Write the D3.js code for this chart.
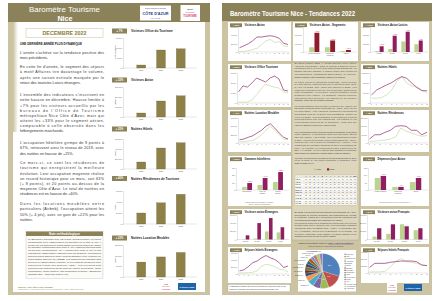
<!DOCTYPE html>
<html>
<head>
<meta charset="utf-8">
<script src="https://cdn.jsdelivr.net/npm/d3@7"></script>
<style>
body { margin: 0; background: #fff; }
svg { display: block; font-family: "Liberation Sans", Arial, sans-serif; }
</style>
</head>
<body>
<svg id="c" width="440" height="301"></svg>
<script>
// ---- page 1 : décembre 2022 ----
var years = ["2020", "2021", "2022"];
var decOffice = [1500, 9000, 9600];
var decAvion = [40000, 160000, 212000];
var decHotels = [140000, 420000, 525000];
var decResid = [20000, 38500, 54000];
var decMeuble = [70000, 94000, 115000];

// ---- page 2 : tendances 2022 ----
var months = ["J", "F", "M", "A", "M", "J", "J", "A", "S", "O", "N", "D"];
var avion21 = [12000, 12000, 30000, 60000, 90000, 180000, 270000, 300000, 228000, 252000, 150000, 132000];
var avion22 = [102000, 150000, 198000, 270000, 360000, 360000, 378000, 390000, 372000, 330000, 210000, 180000];
var office21 = [900, 900, 900, 3000, 8100, 14100, 18900, 17100, 15900, 15000, 11100, 9900];
var office22 = [11100, 17100, 15900, 20100, 24900, 23100, 21000, 24900, 27000, 24000, 12900, 12000];
var hotels21 = [192000, 192000, 216000, 324000, 516000, 852000, 1056000, 792000, 684000, 624000, 516000, 396000];
var hotels22 = [324000, 516000, 624000, 720000, 816000, 948000, 1056000, 984000, 792000, 624000, 492000, 492000];
var meuble21 = [37500, 37500, 60000, 75000, 150000, 247500, 382500, 502500, 382500, 247500, 120000, 97500];
var meuble22 = [97500, 120000, 172500, 217500, 300000, 382500, 502500, 577500, 450000, 300000, 172500, 120000];
var resid21 = [10500, 10500, 15000, 18000, 24000, 36000, 90000, 70500, 60000, 49500, 40500, 45000];
var resid22 = [24000, 49500, 49500, 64500, 76500, 100500, 103500, 100500, 76500, 76500, 49500, 64500];
var hotEtr21 = [30000, 30000, 36000, 48000, 90000, 228000, 276000, 252000, 210000, 138000, 120000, 60000];
var hotEtr22 = [90000, 120000, 210000, 324000, 372000, 462000, 528000, 462000, 414000, 324000, 186000, 228000];
var hotFra21 = [20000, 20000, 20000, 32000, 124000, 216000, 276000, 216000, 204000, 184000, 152000, 140000];
var hotFra22 = [104000, 184000, 184000, 184000, 204000, 216000, 228000, 228000, 228000, 216000, 152000, 140000];

var segments = ["Loisirs étrangers", "Loisirs non|étrangers", "Affaires"];
var seg21 = [570000, 570000, 120000];
var seg22 = [2310000, 1380000, 240000];
var trimestres = ["1er trim.", "2e trim.", "3e trim.", "4e trim."];
var loisirs21 = [40000, 120000, 420000, 310000];
var loisirs22 = [230000, 650000, 810000, 460000];
var gammes = ["Economique", "Milieu de|gamme", "Haut de|gamme"];
var gamme21 = [42, 68, 109];
var gamme22 = [95, 164, 245];
var depense21 = [82, 21, 54];
var depense22 = [96, 21, 82];
var etr21 = [6000, 24000, 198000, 174000];
var etr22 = [102000, 402000, 525000, 300000];
var fra21 = [48000, 92000, 248000, 152000];
var fra22 = [184000, 248000, 216000, 184000];

var tabRows = ["Hôt. 21", "Hôt. 22", "Rés. 21", "Rés. 22", "Meub. 21", "Meub. 22", "CA h. 21", "CA h. 22", "CA r. 21", "CA r. 22"];
var tabValues = [
  [31, 35, 38, 40, 45, 55, 72, 80, 66, 57, 45, 58],
  [44, 55, 60, 66, 72, 80, 86, 88, 82, 72, 60, 67],
  [30, 34, 36, 40, 45, 56, 72, 82, 68, 58, 45, 55],
  [45, 55, 58, 62, 70, 78, 85, 90, 82, 74, 62, 63],
  [25, 28, 30, 35, 40, 52, 70, 78, 60, 48, 38, 46],
  [35, 40, 45, 50, 58, 65, 78, 84, 70, 58, 45, 50],
  [28, 32, 35, 40, 46, 58, 75, 84, 65, 52, 38, 40],
  [38, 45, 52, 58, 66, 76, 85, 89, 78, 64, 48, 47],
  [26, 30, 33, 38, 44, 55, 74, 83, 62, 50, 36, 38],
  [34, 40, 46, 52, 60, 70, 82, 88, 72, 58, 42, 43]
];

var pays = ["Etats-Unis", "Italie", "Royaume-Uni", "Allemagne", "Belgique", "Suisse", "Espagne", "Pays-Bas",
  "Scandinavie", "Israël", "Moyen-Orient", "Russie", "Asie", "Amérique latine", "Autres Europe", "Autres pays"];
var paysPart = [30, 14, 8, 7, 6, 5, 3, 3, 3, 3, 3, 3, 3, 3, 3, 3];
var pieColors = ["#4f81bd", "#c0504d", "#9bbb59", "#8064a2", "#4bacc6", "#f79646", "#2c4d75", "#772c2a",
  "#5f7530", "#4d3b62", "#276a7c", "#b65708", "#729aca", "#cd7371", "#afc97a", "#9983b5"];

// ---- textes ----
var txtTitre = "UNE DERNIÈRE ANNÉE PLUS DYNAMIQUE";
var txtGauche = [
  ["L'année s'achève sur la tendance positive des", "mois précédents."],
  ["En cette fin d'année, le segment des séjours", "à motif Affaires tire davantage le volume,",
   "après une saison estivale marquée par le", "retour des touristes Loisirs étrangers."],
  ["L'ensemble des indicateurs s'inscrivent en", "nette hausse en décembre. Hausse limitée à",
   "+7% pour les visiteurs accueillis par les", "bureaux de l'Office de Tourisme",
   "métropolitain Nice Côte d'Azur, mais qui", "atteint les +33% pour le segment aérien,",
   "comparable à celle observée dans les", "hébergements marchands."],
  ["L'occupation hôtelière grimpe de 9 points à", "67%, retrouvant ainsi le niveau de 2019, avec",
   "des nuitées en hausse de +25%."],
  ["Ce mois-ci, ce sont les résidences de", "tourisme qui enregistrent la meilleure",
   "évolution. Leur occupation moyenne réalise", "un record historique pour ce mois, soit 63%",
   "(+ 8 points), et 20 points au-dessus de la", "moyenne Côte d'Azur. Le total de nuitées en",
   "résidences est en hausse de +40%."],
  ["Dans les locations meublées entre", "particuliers (Airbnb), l'occupation atteint les",
   "50% (+ 4 pts), avec un gain de +22% pour les", "nuitées."]
];
var txtNote = [
  "Le Baromètre Tourisme Nice est réalisé mensuellement, en étroite",
  "collaboration avec l'Observatoire du Tourisme de la Côte d'Azur. Il",
  "repose sur les données de fréquentation recueillies auprès de l'Office",
  "de Tourisme Métropolitain Nice Côte d'Azur (visiteurs accueillis dans",
  "les bureaux d'information), de l'Aéroport Nice Côte d'Azur et des",
  "enquêtes de l'Observatoire (visiteurs avion par segment). Les données",
  "hôtelières sont issues du panel MKG Destination et de l'enquête de",
  "fréquentation hôtelière de l'INSEE. Les résidences de tourisme sont",
  "suivies via l'Observatoire régional, et les locations meublées entre",
  "particuliers à partir des données AirDNA. Les évolutions sont",
  "calculées par rapport au même mois de l'année précédente. Toute",
  "reproduction, même partielle, doit mentionner la source : Baromètre",
  "Tourisme Nice – OTM Nice Côte d'Azur."
];
var txtMilieu = [
  ["En début d'année 2022, le variant Omicron freine encore", "l'activité touristique, mais la reprise s'amorce dès le",
   "printemps avec la levée des restrictions sanitaires. La", "saison estivale marque le grand retour des clientèles",
   "internationales, notamment américaines, et l'arrière-", "saison confirme cette dynamique jusqu'en fin d'année."],
  ["Le trafic aérien a fortement progressé, avec près de", "3,9 millions de visiteurs arrivés à l'aéroport Nice Côte",
   "d'Azur en 2022, soit +81% par rapport à 2021. Les", "visiteurs étrangers ont été les principaux moteurs de",
   "cette croissance, la clientèle Loisirs étrangère ayant", "quadruplé sur l'année. Le segment Affaires retrouve",
   "également des couleurs, en particulier au dernier", "trimestre, porté par les congrès et salons."],
  ["La fréquentation des bureaux d'accueil de l'Office de", "Tourisme Métropolitain progresse de +58%, avec un pic",
   "en septembre. Les visiteurs étrangers représentent", "désormais plus de la moitié des demandes, contre un",
   "tiers en 2021. Les demandes d'information portent", "principalement sur les transports, les visites et les",
   "événements culturels de la Métropole, ainsi que sur", "l'offre de loisirs de plein air de l'arrière-pays."],
  ["Les performances des hébergements marchands confirment", "cette embellie. L'occupation hôtelière moyenne atteint",
   "68% sur l'année (+19 points), avec un mois d'août record", "à 88%. Les nuitées hôtelières progressent de +57%,",
   "portées par les clientèles étrangères (+119%). Les", "résidences de tourisme affichent un taux d'occupation de",
   "66% (+14 points) et les meublés entre particuliers de", "55% (+9 points). Le prix moyen des chambres progresse",
   "dans toutes les catégories, surtout dans le haut de gamme."],
  ["Les taux d'occupation mensuels des hébergements de Nice", "et de la Côte d'Azur sont présentés ci-dessous, pour",
   "2021 et 2022 (en %)."]
];
var txtMilieuBas = [
  ["En 2022, les séjours aériens français ont progressé de +37%,", "bénéficiant en premier semestre des restrictions de voyage",
   "à l'étranger, tandis que les séjours aériens étrangers ont", "été multipliés par quatre sur l'ensemble de l'année."],
  ["Les nuitées hôtelières étrangères retrouvent leur niveau", "d'avant-crise dès le mois de juin. Les principaux marchés",
   "émetteurs sont les États-Unis, l'Italie, le Royaume-Uni", "et l'Allemagne, suivis par la Belgique et la Suisse. La",
   "clientèle française reste stable en haute saison et se", "maintient à un bon niveau en arrière-saison."]
];

var olive = "#8b8259", oliveBar = "#8d8148", tan = "#cbc3a1", boxTan = "#ddd6bd";
var purple = "#8f2a6b", greenLine = "#c6d9a0", greenBar = "#bad38d", segRed = "#8e1c2a", mag = "#8f1f5f";

var svg = d3.select("#c");
var fr = d3.formatLocale({ decimal: ",", thousands: "\u00a0", grouping: [3], currency: ["", "€"] });
var fmt = fr.format(",d");
function pct(a, b) {
  var v = Math.round((a / b - 1) * 100);
  return (v >= 0 ? "+ " : "- ") + Math.abs(v) + "%";
}

// justified lines of text
function lines(g, arr, x, y, lh, w, fs, color, weight) {
  arr.forEach(function (t, i) {
    var el = g.append("text").attr("x", x).attr("y", y + i * lh)
      .attr("font-size", fs).attr("fill", color || "#333").text(t);
    if (weight) el.attr("font-weight", weight);
    var len = el.node().getComputedTextLength();
    if (len > w) el.attr("textLength", w).attr("lengthAdjust", "spacingAndGlyphs");
    else if (i < arr.length - 1) el.attr("textLength", w).attr("lengthAdjust", "spacing");
  });
}

function styleAxis(g, fs) {
  g.attr("font-size", fs).attr("font-family", null);
  g.select(".domain").attr("stroke", "#999").attr("stroke-width", 0.25);
  g.selectAll(".tick line").attr("stroke", "#999").attr("stroke-width", 0.2);
  g.selectAll(".tick text").attr("fill", "#555");
}

/* ================= PAGE 1 ================= */
svg.append("rect").attr("x", 8).attr("y", 3).attr("width", 202).attr("height", 292).attr("fill", tan);
svg.append("rect").attr("x", 13).attr("y", 22).attr("width", 192).attr("height", 270).attr("fill", "#fff");
var grad = svg.append("defs").append("linearGradient").attr("id", "lg");
grad.append("stop").attr("offset", 0).attr("stop-color", tan);
grad.append("stop").attr("offset", 1).attr("stop-color", "#fff");
svg.append("rect").attr("x", 13).attr("y", 22).attr("width", 5).attr("height", 110).attr("fill", "url(#lg)");
svg.append("rect").attr("x", 8).attr("y", 3).attr("width", 202).attr("height", 19).attr("fill", olive);

svg.append("text").attr("x", 29).attr("y", 11.8).attr("font-size", 8).attr("fill", "#fff")
  .attr("textLength", 71).attr("lengthAdjust", "spacingAndGlyphs").text("Baromètre Tourisme");
svg.append("text").attr("x", 65).attr("y", 20.5).attr("text-anchor", "middle").attr("font-size", 7.2)
  .attr("font-weight", "bold").attr("fill", "#fff").text("Nice");

// logos en-tête
svg.append("rect").attr("x", 140).attr("y", 5.5).attr("width", 31).attr("height", 15).attr("fill", "#fff");
svg.append("text").attr("x", 155.5).attr("y", 9).attr("text-anchor", "middle").attr("font-size", 1.6)
  .attr("fill", "#1c3f8a").text("Comité Régional du Tourisme");
svg.append("text").attr("x", 142.5).attr("y", 15).attr("font-size", 4.3).attr("font-weight", "bold")
  .attr("fill", "#1c3f8a").attr("textLength", 26).attr("lengthAdjust", "spacingAndGlyphs").text("CÔTE D'AZUR");
svg.append("text").attr("x", 155.5).attr("y", 18.6).attr("text-anchor", "middle").attr("font-size", 1.6)
  .attr("fill", "#1c3f8a").attr("letter-spacing", 0.6).text("FRANCE");
svg.append("rect").attr("x", 180.5).attr("y", 5).attr("width", 19.5).attr("height", 16).attr("fill", "#fff");
svg.append("text").attr("x", 190).attr("y", 9.5).attr("text-anchor", "middle").attr("font-size", 2.4)
  .attr("font-weight", "bold").attr("fill", "#444").text("NICE");
svg.append("text").attr("x", 190).attr("y", 13).attr("text-anchor", "middle").attr("font-size", 1.9)
  .attr("fill", "#d33").text("côte d'azur");
svg.append("text").attr("x", 190).attr("y", 16.5).attr("text-anchor", "middle").attr("font-size", 2.6)
  .attr("font-weight", "bold").attr("fill", "#e0457b").text("TOURISME");

// cartouche mois
svg.append("rect").attr("x", 26).attr("y", 28.5).attr("width", 77).attr("height", 9).attr("fill", "#fff")
  .attr("stroke", "#cfc8ab").attr("stroke-width", 0.6);
svg.append("text").attr("x", 42.5).attr("y", 35.3).attr("font-size", 5.6).attr("font-weight", "bold")
  .attr("fill", "#8a7d3c").attr("textLength", 44).attr("lengthAdjust", "spacingAndGlyphs").text("DECEMBRE 2022");

svg.append("text").attr("x", 20).attr("y", 44.5).attr("font-size", 3).attr("font-weight", "bold")
  .attr("fill", "#222").text(txtTitre);
var gStart = [54.3, 68.3, 96.3, 144.3, 164.3, 205.3];
var gLeft = svg.append("g");
txtGauche.forEach(function (p, i) { lines(gLeft, p, 20, gStart[i], 5.15, 84, 3.7, "#333"); });

// note méthodologique
svg.append("rect").attr("x", 26).attr("y", 231.5).attr("width", 77).attr("height", 47).attr("fill", "#fbfaf6")
  .attr("stroke", "#aaa").attr("stroke-width", 0.3);
svg.append("rect").attr("x", 26).attr("y", 231.5).attr("width", 77).attr("height", 4.5).attr("fill", olive);
svg.append("text").attr("x", 64.5).attr("y", 234.9).attr("text-anchor", "middle").attr("font-size", 3)
  .attr("font-weight", "bold").attr("fill", "#fff").text("Note méthodologique");
lines(svg.append("g"), txtNote, 28, 239.6, 2.95, 73, 2.3, "#333");

svg.append("text").attr("x", 18).attr("y", 287.5).attr("font-size", 2).attr("fill", "#8a7d3c")
  .attr("font-weight", "bold").text("Sources : Nice Côte d'Azur Tourisme");
svg.append("text").attr("x", 18).attr("y", 290.4).attr("font-size", 1.7).attr("fill", "#9c9262")
  .text("Contributeurs : Aéroport Nice Côte d'Azur, MKG Destination, AirDNA, Observatoire CRT");
// logos bas
function logoBas(x, y, bx, by) {
  svg.append("rect").attr("x", x).attr("y", y).attr("width", 10).attr("height", 10).attr("fill", "#fff");
  svg.append("text").attr("x", x + 5).attr("y", y + 3).attr("text-anchor", "middle").attr("font-size", 1.6)
    .attr("fill", "#444").text("NICE");
  svg.append("text").attr("x", x + 5).attr("y", y + 5.6).attr("text-anchor", "middle").attr("font-size", 1.5)
    .attr("fill", "#d33").text("côte d'azur");
  svg.append("text").attr("x", x + 5).attr("y", y + 8.2).attr("text-anchor", "middle").attr("font-size", 1.6)
    .attr("font-weight", "bold").attr("fill", "#e0457b").text("TOURISME");
  svg.append("rect").attr("x", bx).attr("y", by).attr("width", 18).attr("height", 7).attr("fill", "#1f63a8");
  svg.append("text").attr("x", bx + 9).attr("y", by + 4.5).attr("text-anchor", "middle").attr("font-size", 2.2)
    .attr("font-weight", "bold").attr("fill", "#fff").text("CÔTE D'AZUR");
}
logoBas(161, 281.5, 178, 283);

// graphiques de décembre
var decCharts = [
  { title: "Visiteurs Office du Tourisme", data: decOffice, max: 15000, ty: 31, top: 38, base: 68, yt: "Nombre de visiteurs" },
  { title: "Visiteurs Avion", data: decAvion, max: 300000, ty: 80, top: 87, base: 117, yt: "Visiteurs" },
  { title: "Nuitées Hôtels", data: decHotels, max: 600000, ty: 129, top: 139, base: 169, yt: "Nuitées" },
  { title: "Nuitées Résidences de Tourisme", data: decResid, max: 60000, ty: 178.5, top: 191, base: 224, yt: "Nuitées" },
  { title: "Nuitées Location Meublée", data: decMeuble, max: 150000, ty: 238, top: 245, base: 277, yt: "Nuitées" }
];
decCharts.forEach(function (c) {
  var g = svg.append("g");
  g.append("rect").attr("x", 112).attr("y", c.ty - 2.5).attr("width", 15).attr("height", 5).attr("fill", olive);
  g.append("text").attr("x", 119.5).attr("y", c.ty + 0.9).attr("text-anchor", "middle").attr("font-size", 2.6)
    .attr("font-weight", "bold").attr("fill", "#fff").text(pct(c.data[2], c.data[1]));
  g.append("text").attr("x", 131).attr("y", c.ty + 1.1).attr("font-size", 3.1).attr("font-weight", "bold")
    .attr("fill", "#222").text(c.title);
  var x = d3.scaleBand().domain(years).range([126, 196]).padding(0.55);
  var y = d3.scaleLinear().domain([0, c.max]).range([c.base, c.top]);
  var ax = g.append("g").attr("transform", "translate(123,0)")
    .call(d3.axisLeft(y).tickValues(d3.range(0, c.max + 1, c.max / 3)).tickSize(1).tickPadding(0.6).tickFormat(fmt));
  styleAxis(ax, 1.8);
  g.append("line").attr("x1", 123).attr("x2", 197).attr("y1", c.base).attr("y2", c.base)
    .attr("stroke", "#999").attr("stroke-width", 0.25);
  g.selectAll(".bar").data(c.data).enter().append("rect")
    .attr("x", function (d, i) { return x(years[i]); })
    .attr("y", function (d) { return y(d); })
    .attr("width", x.bandwidth())
    .attr("height", function (d) { return c.base - y(d); })
    .attr("fill", oliveBar).attr("stroke", "#5f5632").attr("stroke-width", 0.25);
  g.selectAll(".xl").data(years).enter().append("text")
    .attr("x", function (d) { return x(d) + x.bandwidth() / 2; }).attr("y", c.base + 3)
    .attr("text-anchor", "middle").attr("font-size", 1.9).attr("fill", "#555").text(function (d) { return d; });
  g.append("text").attr("transform", "translate(115.5," + ((c.top + c.base) / 2) + ") rotate(-90)")
    .attr("text-anchor", "middle").attr("font-size", 1.7).attr("fill", "#555").text(c.yt);
});

/* ================= PAGE 2 ================= */
svg.append("rect").attr("x", 222).attr("y", 3).attr("width", 210).attr("height", 292).attr("fill", tan);
svg.append("rect").attr("x", 222).attr("y", 3).attr("width", 210).attr("height", 18).attr("fill", olive);
svg.append("text").attr("x", 230).attr("y", 16.3).attr("font-size", 7).attr("font-weight", "bold").attr("fill", "#fff")
  .attr("textLength", 125).attr("lengthAdjust", "spacingAndGlyphs").text("Baromètre Tourisme Nice - Tendances 2022");

function panel(p, badge) {
  var g = svg.append("g");
  g.append("rect").attr("x", p.x).attr("y", p.y).attr("width", p.w).attr("height", p.h).attr("fill", "#fff");
  g.append("rect").attr("x", p.x + 2).attr("y", p.y + 1.3).attr("width", 12).attr("height", 3.8).attr("fill", olive);
  g.append("text").attr("x", p.x + 8).attr("y", p.y + 3.9).attr("text-anchor", "middle").attr("font-size", 2.2)
    .attr("font-weight", "bold").attr("fill", "#fff").text(badge);
  g.append("text").attr("x", p.x + 16.5).attr("y", p.y + 4.1).attr("font-size", 2.8).attr("font-weight", "bold")
    .attr("fill", "#222").text(p.title);
  return g;
}

function yAxis(g, p, y) {
  var ax = g.append("g").attr("transform", "translate(" + p.px0 + ",0)")
    .call(d3.axisLeft(y).tickValues(d3.range(0, p.max + 1, p.max / 3)).tickSize(0.8).tickPadding(0.5).tickFormat(fmt));
  styleAxis(ax, 1.6);
  g.append("line").attr("x1", p.px0).attr("x2", p.px1).attr("y1", p.py1).attr("y2", p.py1)
    .attr("stroke", "#999").attr("stroke-width", 0.25);
}

function lineChart(p) {
  var g = panel(p, pct(d3.sum(p.d22), d3.sum(p.d21)));
  var x = d3.scalePoint().domain(d3.range(12)).range([p.px0 + 1.5, p.px1 - 1]);
  var y = d3.scaleLinear().domain([0, p.max]).range([p.py1, p.py0]);
  yAxis(g, p, y);
  g.selectAll(".xl").data(months).enter().append("text")
    .attr("x", function (d, i) { return x(i); }).attr("y", p.py1 + 2.2).attr("text-anchor", "middle")
    .attr("font-size", 1.6).attr("fill", "#555").text(function (d) { return d; });
  var line = d3.line().x(function (d, i) { return x(i); }).y(function (d) { return y(d); });
  g.append("path").datum(p.d21).attr("d", line).attr("fill", "none").attr("stroke", greenLine).attr("stroke-width", 0.7);
  g.append("path").datum(p.d22).attr("d", line).attr("fill", "none").attr("stroke", purple).attr("stroke-width", 0.7);
}

function barChart(p) {
  var g = panel(p, pct(d3.sum(p.d22), d3.sum(p.d21)));
  var x = d3.scaleBand().domain(p.groups).range([p.px0 + 1, p.px1 - 1]).padding(0.3);
  var xi = d3.scaleBand().domain([0, 1]).range([0, x.bandwidth()]).padding(0.08);
  var y = d3.scaleLinear().domain([0, p.max]).range([p.py1, p.py0]);
  yAxis(g, p, y);
  p.groups.forEach(function (grp, i) {
    [p.d21[i], p.d22[i]].forEach(function (v, k) {
      g.append("rect").attr("x", x(grp) + xi(k)).attr("y", y(v)).attr("width", xi.bandwidth())
        .attr("height", p.py1 - y(v)).attr("fill", k ? p.col : greenBar);
    });
    if (p.labels) {
      g.append("text").attr("x", x(grp) + xi(1) + xi.bandwidth() / 2).attr("y", y(p.d22[i]) - 1)
        .attr("text-anchor", "middle").attr("font-size", 1.6).attr("fill", "#c0392b")
        .text(pct(p.d22[i], p.d21[i]));
    }
    grp.split("|").forEach(function (t, j) {
      g.append("text").attr("x", x(grp) + x.bandwidth() / 2).attr("y", p.py1 + 2.2 + j * 2)
        .attr("text-anchor", "middle").attr("font-size", 1.6).attr("fill", "#555").text(t);
    });
  });
  if (p.caption) {
    p.caption.forEach(function (t, j) {
      g.append("text").attr("x", p.x + p.w / 2).attr("y", p.y + p.h - 3.5 + j * 2)
        .attr("text-anchor", "middle").attr("font-size", 1.5).attr("fill", "#666").text(t);
    });
  }
}

var L = 228, LW = 63, M = 293, MW = 65, R = 361, RW = 68;
var panels = [
  { kind: "line", x: L, y: 22, w: LW, h: 39, title: "Visiteurs Avion", d21: avion21, d22: avion22, max: 600000, px0: 238, px1: 289, py0: 27, py1: 52 },
  { kind: "bar", x: M, y: 22, w: MW, h: 39, title: "Visiteurs Avion - Segments", groups: segments, d21: seg21, d22: seg22, max: 3000000, col: segRed, labels: true, px0: 303, px1: 357, py0: 27, py1: 52 },
  { kind: "bar", x: R, y: 22, w: RW, h: 39, title: "Visiteurs Avion Loisirs", groups: trimestres, d21: loisirs21, d22: loisirs22, max: 1000000, col: mag, labels: true, px0: 370, px1: 428, py0: 27, py1: 52 },
  { kind: "line", x: L, y: 64, w: LW, h: 43, title: "Visiteurs Office Tourisme", d21: office21, d22: office22, max: 30000, px0: 237, px1: 289, py0: 73, py1: 103 },
  { kind: "line", x: R, y: 64, w: RW, h: 43, title: "Nuitées Hôtels", d21: hotels21, d22: hotels22, max: 1200000, px0: 370, px1: 428, py0: 73, py1: 103 },
  { kind: "line", x: L, y: 110, w: LW, h: 42, title: "Nuitées Location Meublée", d21: meuble21, d22: meuble22, max: 750000, px0: 238, px1: 289, py0: 118, py1: 143 },
  { kind: "line", x: R, y: 110, w: RW, h: 42, title: "Nuitées Résidences", d21: resid21, d22: resid22, max: 150000, px0: 368, px1: 428, py0: 118, py1: 143 },
  { kind: "bar", x: L, y: 156, w: LW, h: 50, title: "Gammes hôtelières", groups: gammes, d21: gamme21, d22: gamme22, max: 300, col: mag, labels: true, px0: 236, px1: 289, py0: 168, py1: 190, caption: ["Nuitées hôtelières par gamme (en milliers)", "Source : panel MKG Destination"] },
  { kind: "bar", x: R, y: 156, w: RW, h: 50, title: "Dépenses/jour Avion", groups: segments, d21: depense21, d22: depense22, max: 150, col: mag, labels: true, px0: 368, px1: 428, py0: 168, py1: 190, caption: ["Dépense moyenne par jour et par personne (€)"] },
  { kind: "bar", x: L, y: 209, w: LW, h: 35, title: "Visiteurs avion Étrangers", groups: trimestres, d21: etr21, d22: etr22, max: 600000, col: mag, px0: 237, px1: 289, py0: 215, py1: 239.5 },
  { kind: "bar", x: R, y: 209, w: RW, h: 35, title: "Visiteurs avion Français", groups: trimestres, d21: fra21, d22: fra22, max: 400000, col: mag, px0: 367, px1: 428, py0: 215, py1: 239.5 },
  { kind: "line", x: L, y: 247, w: LW, h: 36, title: "Séjours hôtels Étrangers", d21: hotEtr21, d22: hotEtr22, max: 600000, px0: 238, px1: 289, py0: 253, py1: 274 },
  { kind: "line", x: R, y: 247, w: RW, h: 36, title: "Séjours hôtels Français", d21: hotFra21, d22: hotFra22, max: 400000, px0: 368, px1: 428, py0: 252, py1: 273 }
];
panels.forEach(function (p) { if (p.kind === "line") lineChart(p); else barChart(p); });

// colonne centrale : texte
svg.append("rect").attr("x", 292).attr("y", 62.5).attr("width", 67).attr("height", 177.5).attr("fill", boxTan)
  .attr("stroke", "#a79f7c").attr("stroke-width", 0.4);
var mStart = [64.1, 82.6, 106.8, 132.6, 158.8];
var gMid = svg.append("g");
txtMilieu.forEach(function (p, i) { lines(gMid, p, 294.5, mStart[i], 2.68, 62, 2.15, "#333"); });
var mStart2 = [213, 223.8];
txtMilieuBas.forEach(function (p, i) { lines(gMid, p, 294.5, mStart2[i], 2.68, 62, 2.15, "#333"); });

// légende
[["2021", greenBar, 314], ["2022", mag, 327]].forEach(function (l) {
  svg.append("rect").attr("x", l[2]).attr("y", 168.3).attr("width", 2.2).attr("height", 2.2).attr("fill", l[1]);
  svg.append("text").attr("x", l[2] + 3).attr("y", 170.3).attr("font-size", 1.9).attr("fill", "#333").text(l[0]);
});

// tableau des taux d'occupation
var tx0 = 295, tw = 62, ty0 = 175, th = 30, lab = 9;
var nrow = tabRows.length + 1, rh = th / nrow, cw = (tw - lab) / 13;
var tg = svg.append("g");
tg.append("rect").attr("x", tx0).attr("y", ty0).attr("width", tw).attr("height", th).attr("fill", "#fff")
  .attr("stroke", "#999").attr("stroke-width", 0.25);
tg.append("rect").attr("x", tx0).attr("y", ty0).attr("width", tw).attr("height", rh).attr("fill", "#eee9d6");
months.concat(["Moy."]).forEach(function (m, j) {
  tg.append("text").attr("x", tx0 + lab + (j + 0.5) * cw).attr("y", ty0 + rh * 0.75).attr("text-anchor", "middle")
    .attr("font-size", 1.5).attr("font-weight", "bold").attr("fill", "#333").text(m);
});
tabRows.forEach(function (r, i) {
  var yy = ty0 + (i + 1) * rh;
  if (i % 2 === 1) tg.append("rect").attr("x", tx0).attr("y", yy).attr("width", tw).attr("height", rh).attr("fill", "#f6f3e9");
  tg.append("line").attr("x1", tx0).attr("x2", tx0 + tw).attr("y1", yy).attr("y2", yy)
    .attr("stroke", "#bbb").attr("stroke-width", i % 2 === 0 ? 0.25 : 0.12);
  tg.append("text").attr("x", tx0 + 0.6).attr("y", yy + rh * 0.75).attr("font-size", 1.45).attr("font-weight", "bold")
    .attr("fill", "#333").text(r);
  tabValues[i].concat([Math.round(d3.mean(tabValues[i]))]).forEach(function (v, j) {
    tg.append("text").attr("x", tx0 + lab + (j + 0.5) * cw).attr("y", yy + rh * 0.75).attr("text-anchor", "middle")
      .attr("font-size", 1.45).attr("fill", j === 12 ? "#8f1f5f" : "#333").text(v);
  });
});
d3.range(14).forEach(function (j) {
  var xx = tx0 + lab + j * cw;
  tg.append("line").attr("x1", xx).attr("x2", xx).attr("y1", ty0).attr("y2", ty0 + th).attr("stroke", "#ccc").attr("stroke-width", 0.12);
});

// liens
var lk = svg.append("text").attr("x", 326).attr("y", 243.6).attr("text-anchor", "middle").attr("font-size", 1.9).attr("fill", "#333");
lk.append("tspan").text("Chiffres clés mensuels, cliquez ici : ");
lk.append("tspan").attr("fill", "#5b3c9c").attr("text-decoration", "underline").attr("font-weight", "bold").text("Mois - Années & Tendances");
svg.append("text").attr("x", 326).attr("y", 247.4).attr("text-anchor", "middle").attr("font-size", 1.7).attr("fill", "#555")
  .text("Données détaillées : Observatoire du Tourisme");

// camembert nationalités
svg.append("rect").attr("x", 298).attr("y", 250).attr("width", 58).attr("height", 41.5).attr("fill", "#fff");
var pie = d3.pie().sort(null).value(function (d) { return d; });
var arc = d3.arc().innerRadius(0).outerRadius(17.5);
var arcOut = d3.arc().innerRadius(20).outerRadius(20);
var pg = svg.append("g").attr("transform", "translate(322.5,271)");
var arcs = pie(paysPart);
pg.selectAll("path").data(arcs).enter().append("path").attr("d", arc)
  .attr("fill", function (d, i) { return pieColors[i]; }).attr("stroke", "#fff").attr("stroke-width", 0.15);
arcs.forEach(function (a, i) {
  if (a.data >= 7) {
    var c = arc.centroid(a);
    pg.append("text").attr("x", c[0]).attr("y", c[1]).attr("text-anchor", "middle").attr("font-size", 1.7)
      .attr("fill", "#fff").text(a.data + "%");
  } else if ((a.startAngle + a.endAngle) / 2 > Math.PI) {
    var o = arcOut.centroid(a);
    pg.append("text").attr("x", o[0]).attr("y", o[1] + 0.5).attr("text-anchor", "end").attr("font-size", 1.4)
      .attr("fill", "#444").text(pays[i] + " " + a.data + "%");
  }
});
pays.forEach(function (n, i) {
  svg.append("rect").attr("x", 344.5).attr("y", 253.6 + i * 2.3).attr("width", 1.2).attr("height", 1.2).attr("fill", pieColors[i]);
  svg.append("text").attr("x", 346.3).attr("y", 254.7 + i * 2.3).attr("font-size", 1.5).attr("fill", "#444").text(n);
});

// encart bas gauche + logos
svg.append("rect").attr("x", 228).attr("y", 284.5).attr("width", 62).attr("height", 7.3).attr("fill", "#fff")
  .attr("stroke", "#999").attr("stroke-width", 0.3);
svg.append("text").attr("x", 229.5).attr("y", 287.4).attr("font-size", 1.7).attr("fill", "#333")
  .text("Le Baromètre Tourisme Nice est une publication de l'OTM Nice Côte d'Azur.");
svg.append("text").attr("x", 229.5).attr("y", 290.1).attr("font-size", 1.7).attr("fill", "#333")
  .text("Retrouvez l'ensemble des études sur nicecotedazurtourisme.com");
logoBas(387, 282.5, 404, 284);
</script>
</body>
</html>
